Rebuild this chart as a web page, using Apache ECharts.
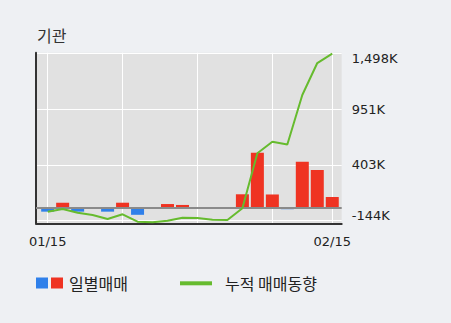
<!DOCTYPE html>
<html><head><meta charset="utf-8">
<script src="https://cdn.jsdelivr.net/npm/echarts@6/dist/echarts.min.js"></script>
<style>html,body{margin:0;padding:0;background:#eef0f3;}#c{width:451px;height:323px;}</style>
</head><body><div id="c"></div>
<script>
const dates = ['01/15','01/18','01/19','01/20','01/21','01/22','01/25','01/26','01/27','01/28','01/29','02/01','02/02','02/03','02/04','02/05','02/08','02/09','02/10','02/15'];
const daily = [-39, 49, -39, 0, -39, 49, -70, 0, 36, 27, 0, 0, 0, 132, 541, 130, -15, 452, 371, 105];
const cumulative = [-56, -30, -66, -89, -128, -82, -155, -161, -145, -115, -118, -135, -138, -23, 518, 632, 605, 1092, 1406, 1498];
const yTicks = [-144, 403, 951, 1498];
const xLabelIdx = [0, 19];
const xGridIdx = [0, 5, 10, 15, 19];

const fmtK = v => (v < 0 ? '-' : '') + Math.abs(v).toString().replace(/\B(?=(\d{3})+(?!\d))/g, ',') + 'K';
const NUM = '"DejaVu Sans", sans-serif';
const KR = '"Noto Sans CJK KR", sans-serif';

const chart = echarts.init(document.getElementById('c'), null, {renderer: 'svg'});
chart.setOption({
  backgroundColor: '#eef0f3',
  animation: false,
  grid: {left: 36, right: 109.3, top: 52.7, bottom: 99.7, show: true, backgroundColor: '#e1e1e1', borderWidth: 0},
  xAxis: {
    type: 'value', min: -0.78, max: 19.63,
    axisLine: {show: true, onZero: false, lineStyle: {color: '#333', width: 2}},
    axisTick: {show: false, customValues: xGridIdx},
    splitLine: {show: true, lineStyle: {color: '#fff', width: 1}},
    axisLabel: {customValues: xLabelIdx, formatter: v => dates[Math.round(v)], color: '#222', fontSize: 13, fontFamily: NUM, margin: 12}
  },
  yAxis: [
    {
      type: 'value', position: 'right', min: -170.6, max: 1507.8,
      axisLine: {show: false}, axisTick: {show: false, customValues: yTicks},
      splitLine: {show: true, lineStyle: {color: '#fff', width: 1}},
      axisLabel: {customValues: yTicks, color: '#222', fontSize: 13, fontFamily: NUM, margin: 10, lineHeight: 10,
        formatter: v => v === yTicks[yTicks.length-1] ? '\n' + fmtK(v) : (v === yTicks[0] ? fmtK(v) + '\n' : fmtK(v))}
    },
    {
      type: 'value', position: 'left', min: -153.5, max: 1524.8,
      axisLine: {show: true, onZero: false, lineStyle: {color: '#333', width: 2}},
      axisTick: {show: false}, axisLabel: {show: false}, splitLine: {show: false}
    }
  ],
  series: [
    {
      type: 'bar', yAxisIndex: 1, barWidth: 13,
      data: daily.map((v, i) => [i, v]),
      itemStyle: {color: p => p.value[1] < 0 ? '#2f80ea' : '#ef3322'},
      markLine: {silent: true, symbol: 'none', label: {show: false}, lineStyle: {color: '#8a8a8a', width: 2, type: 'solid'}, data: [{yAxis: 0}]},
      z: 2
    },
    {
      type: 'line', yAxisIndex: 0, symbol: 'none',
      data: cumulative.map((v, i) => [i, v]),
      lineStyle: {color: '#66bb2e', width: 2}, z: 5
    }
  ],
  graphic: [
    {type: 'text', left: 37, top: 27, style: {text: '기관', font: '16px ' + KR, fill: '#333'}},
    {type: 'rect', shape: {x: 36, y: 277.5, width: 12, height: 11}, style: {fill: '#2f80ea'}},
    {type: 'rect', shape: {x: 51, y: 277.5, width: 12, height: 11}, style: {fill: '#ef3322'}},
    {type: 'text', x: 69, y: 283, style: {text: '일별매매', font: '16px ' + KR, fill: '#222', verticalAlign: 'middle'}},
    {type: 'rect', shape: {x: 180, y: 281.3, width: 32, height: 4}, style: {fill: '#66bb2e'}},
    {type: 'text', x: 225, y: 283, style: {text: '누적 매매동향', font: '16px ' + KR, fill: '#222', verticalAlign: 'middle'}}
  ]
});
</script></body></html>
